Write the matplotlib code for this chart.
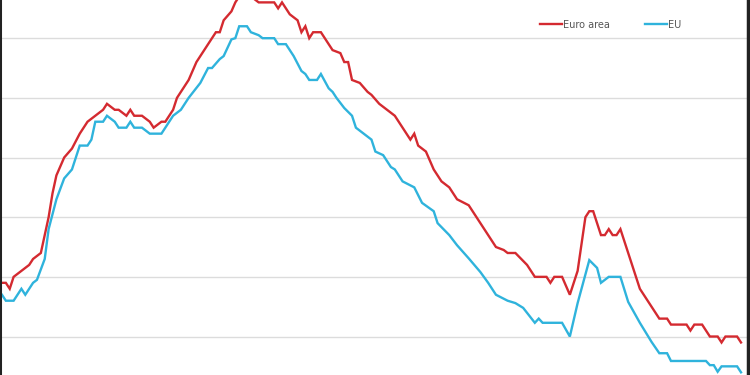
import matplotlib
matplotlib.use("Agg")
import matplotlib.pyplot as plt

# monthly index from Jan 2008, unemployment rate (%)
ea_months = [0, 1, 2, 3, 5, 7, 8, 10, 11, 12, 13, 14, 16, 18, 20, 22, 24, 26, 27, 29,
             30, 32, 33, 34, 36, 38, 39, 41, 42, 44, 45, 48, 50, 52, 54, 55, 56, 57, 59, 60,
             61, 64, 66, 70, 71, 72, 74, 76, 77, 78, 79, 80, 82, 84, 85, 87, 88, 89, 90, 92,
             94, 95, 97, 99, 101, 102, 103, 105, 106, 107, 109, 111, 113, 115, 117, 120, 122, 125, 127, 129,
             130, 132, 135, 137, 140, 141, 142, 144, 146, 148, 150, 151, 152, 154, 155, 156, 157, 158, 159, 161,
             164, 167, 169, 171, 172, 176, 177, 178, 180, 182, 184, 185, 186, 189, 190]
ea_rate = [6.9, 6.9, 6.8, 7.0, 7.1, 7.2, 7.3, 7.4, 7.7, 8.0, 8.4, 8.7, 9.0, 9.15, 9.4, 9.6, 9.7, 9.8, 9.9, 9.8,
           9.8, 9.7, 9.8, 9.7, 9.7, 9.6, 9.5, 9.6, 9.6, 9.8, 10.0, 10.3, 10.6, 10.8, 11.0, 11.1, 11.1, 11.3, 11.45, 11.6,
           11.7, 11.7, 11.6, 11.6, 11.5, 11.6, 11.4, 11.3, 11.1, 11.2, 11.0, 11.1, 11.1, 10.9, 10.8, 10.75, 10.6, 10.6, 10.3, 10.25,
           10.1, 10.05, 9.9, 9.8, 9.7, 9.6, 9.5, 9.3, 9.4, 9.2, 9.1, 8.8, 8.6, 8.5, 8.3, 8.2, 8.0, 7.7, 7.5, 7.45,
           7.4, 7.4, 7.2, 7.0, 7.0, 6.9, 7.0, 7.0, 6.7, 7.1, 8.0, 8.1, 8.1, 7.7, 7.7, 7.8, 7.7, 7.7, 7.8, 7.4,
           6.8, 6.5, 6.3, 6.3, 6.2, 6.2, 6.1, 6.2, 6.2, 6.0, 6.0, 5.9, 6.0, 6.0, 5.9]

eu_months = [0, 1, 3, 5, 6, 8, 9, 11, 12, 14, 16, 18, 20, 22, 23, 24, 26, 27, 29, 30,
             32, 33, 34, 36, 38, 41, 43, 44, 46, 48, 51, 53, 54, 56, 57, 59, 60, 61, 63, 64,
             66, 67, 70, 71, 73, 75, 77, 78, 79, 81, 82, 84, 85, 86, 88, 90, 91, 93, 95, 96,
             98, 100, 101, 103, 106, 108, 111, 112, 115, 117, 120, 123, 125, 127, 130, 132, 134, 137, 138, 139,
             144, 146, 148, 151, 153, 154, 156, 159, 161, 164, 167, 169, 171, 172, 181, 182, 183, 184, 185, 188,
             189, 190]
eu_rate = [6.7, 6.6, 6.6, 6.8, 6.7, 6.9, 6.95, 7.3, 7.8, 8.3, 8.65, 8.8, 9.2, 9.2, 9.3, 9.6, 9.6, 9.7, 9.6, 9.5,
           9.5, 9.6, 9.5, 9.5, 9.4, 9.4, 9.6, 9.7, 9.8, 10.0, 10.25, 10.5, 10.5, 10.65, 10.7, 10.98, 11.0, 11.2, 11.2, 11.1,
           11.05, 11.0, 11.0, 10.9, 10.9, 10.7, 10.45, 10.4, 10.3, 10.3, 10.4, 10.16, 10.1, 10.0, 9.83, 9.7, 9.5, 9.4, 9.3, 9.1,
           9.04, 8.84, 8.8, 8.6, 8.5, 8.24, 8.1, 7.9, 7.7, 7.53, 7.31, 7.08, 6.9, 6.7, 6.6, 6.56, 6.48, 6.23, 6.3, 6.23,
           6.23, 6.0, 6.56, 7.28, 7.15, 6.9, 7.0, 7.0, 6.58, 6.23, 5.91, 5.72, 5.72, 5.59, 5.59, 5.52, 5.52, 5.41, 5.5, 5.5,
           5.5, 5.4]

grid_levels = [6, 7, 8, 9, 10, 11]

RED = "#d42a30"
BLUE = "#2fb3dc"

fig = plt.figure(figsize=(7.5, 3.75), dpi=100)
ax = fig.add_axes([0, 0, 748 / 750, 1])

ax.plot(ea_months, ea_rate, color=RED, lw=1.7, label="Euro area", solid_joinstyle="miter")
ax.plot(eu_months, eu_rate, color=BLUE, lw=1.7, label="EU", solid_joinstyle="miter")

ax.set_xlim(-0.5, 191.8)
ax.set_ylim(5.355, 11.64)
ax.set_yticks(grid_levels)
ax.set_xticks([])
ax.tick_params(left=False, labelleft=False)
ax.yaxis.grid(True, color="#dcdcdc", lw=1.0)
ax.set_axisbelow(True)

for side in ["top", "bottom"]:
    ax.spines[side].set_visible(False)
ax.spines["left"].set_linewidth(2.2)
ax.spines["right"].set_linewidth(2.5)
ax.spines["left"].set_color("#222222")
ax.spines["right"].set_color("#222222")

leg = ax.legend(ncol=2, loc="upper left", bbox_to_anchor=(533 / 748, 0.966),
                frameon=False, fontsize=7, handlelength=2.3, handletextpad=0.1,
                columnspacing=3.6, borderpad=0.2)
for t in leg.get_texts():
    t.set_color("#555555")

fig.savefig("out.png", dpi=100)
